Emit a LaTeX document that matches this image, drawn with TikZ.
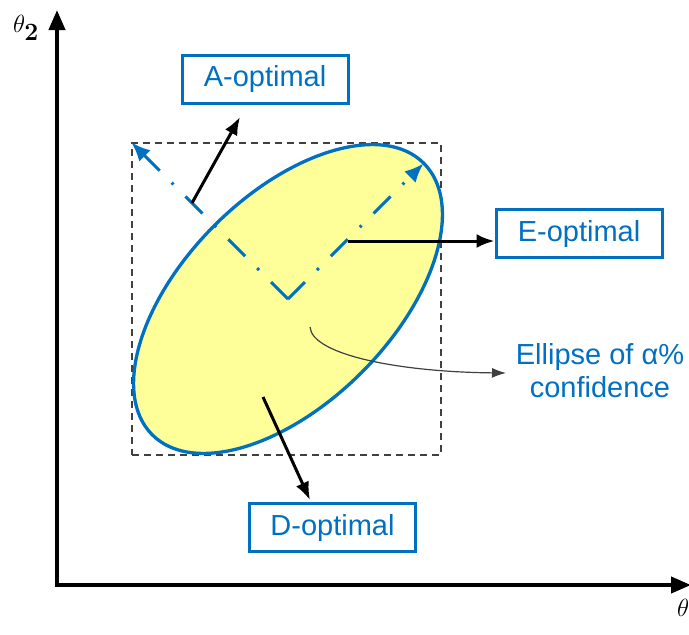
\documentclass[tikz,border=0pt]{standalone}
\usepackage[no-math]{fontspec}
\setmainfont{Liberation Sans}
\usetikzlibrary{arrows.meta,shapes.geometric}
\definecolor{obl}{HTML}{0070C0}
\definecolor{ylw}{HTML}{FFFF99}
\definecolor{dgray}{HTML}{404040}
\begin{document}
\begin{tikzpicture}[x=1pt,y=-1pt,
  lab/.style={draw=obl,line width=3pt,text=obl,font=\fontsize{29}{33}\selectfont,
    minimum width=166pt,minimum height=48pt,inner sep=0pt},
  axis/.style={line width=4pt,{Triangle[length=20pt,width=16pt]}-{Triangle[length=20pt,width=16pt]}},
  blk/.style={line width=3pt,-{Latex[length=18pt,width=14pt]}},
  ddash/.style={obl,line width=3pt,dash pattern=on 24pt off 17pt on 2.5pt off 17pt,
    -{Latex[length=19pt,width=16pt]}},
  lbl/.style={font=\fontsize{29}{33}\selectfont},
  axlbl/.style={font=\fontsize{38}{42}\selectfont,inner sep=0pt}
]
\useasboundingbox (0,0) rectangle (689,635);
\clip (0,0) rectangle (689,635);
% axes
\coordinate (o) at (57,585);
\coordinate (ytip) at (57,10);
\coordinate (xtip) at (691,585);
\draw[axis] (ytip) -- (o) -- (xtip);
\node[axlbl,anchor=center] (t2) at (26,28) {$\theta_{\mathbf{2}}$};
\node[axlbl,anchor=west] (t1) at (677,612) {$\theta_{\mathbf{1}}$};
% bounding box of the ellipse
\node[draw=dgray,dashed,dash pattern=on 7pt off 5pt,line width=1.2pt,
  minimum width=309pt,minimum height=312pt,inner sep=0pt] (box) at (286.5,299) {};
% ellipse
\node[ellipse,draw=obl,fill=ylw,line width=3.3pt,minimum width=384pt,minimum height=208pt,
  rotate=45,inner sep=0pt] (ell) at (288,299) {};
% principal axes
\draw[ddash,shorten >=2pt] (ell.center) -- (ell.east);
\draw[ddash] (ell.center) -- (box.north west);
% labels
\node[lab] (A) at (265,79) {A-optimal};
\node[lab] (E) at (579,233.5) {E-optimal};
\node[lab] (D) at (332.5,527.5) {D-optimal};
\node[lbl,text=obl,align=center] (C) at (600,371) {Ellipse of α\%\\confidence};
% arrows
\coordinate (as) at (192,203);
\coordinate (at) at (240,117);
\draw[blk] (as) -- (at);
\coordinate (es) at (348,241);
\coordinate (et) at (E.west |- es);
\draw[blk] (es) -- (et);
\coordinate (ds) at (263,397);
\coordinate (dt) at (310,500);
\draw[blk] (ds) -- (dt);
\coordinate (cs) at (310,327);
\coordinate (ct) at (506,373);
\draw[dgray,line width=1.2pt,-{Latex[length=14pt,width=10pt]}] (cs) .. controls (312,355) and (400,372) .. (ct);
\end{tikzpicture}
\end{document}
